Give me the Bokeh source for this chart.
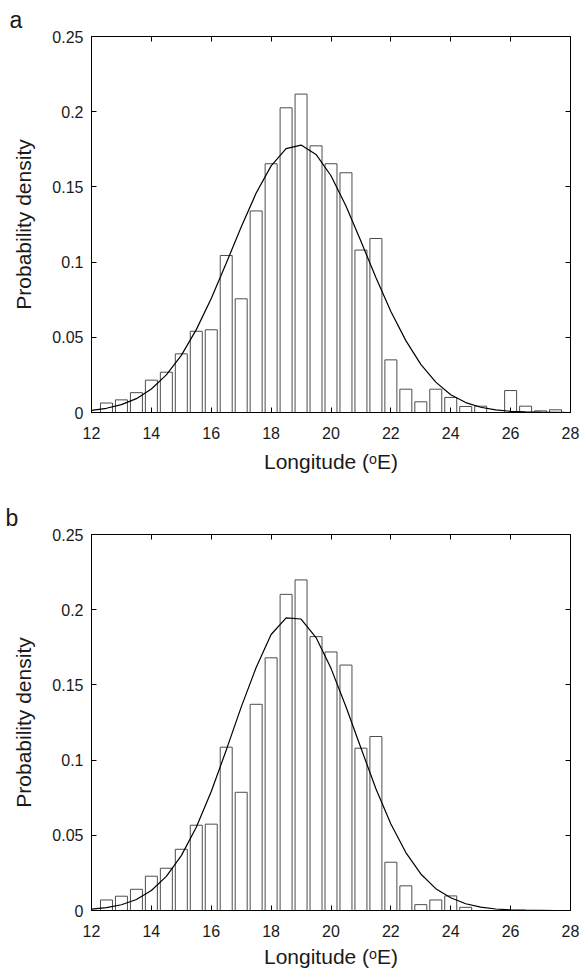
from bokeh.plotting import figure
from bokeh.models import Range1d, LinearAxis, FixedTicker, CustomJSTickFormatter
from bokeh.layouts import column
from bokeh.embed import file_html
from bokeh.resources import INLINE

# ---------------- data ----------------
bin_centers = [12.5, 13.0, 13.5, 14.0, 14.5, 15.0, 15.5, 16.0, 16.5, 17.0, 17.5,
               18.0, 18.5, 19.0, 19.5, 20.0, 20.5, 21.0, 21.5, 22.0, 22.5, 23.0,
               23.5, 24.0, 24.5, 25.0, 25.5, 26.0, 26.5, 27.0, 27.5]

density_a = [0.0063, 0.0084, 0.0132, 0.0215, 0.0268, 0.0390, 0.0540, 0.0550, 0.1044,
             0.0756, 0.1340, 0.1654, 0.2026, 0.2117, 0.1773, 0.1654, 0.1594, 0.1080,
             0.1157, 0.0350, 0.0155, 0.0071, 0.0155, 0.0100, 0.0040, 0.0042, 0.0,
             0.0146, 0.0042, 0.0011, 0.0018]

density_b = [0.0070, 0.0095, 0.0141, 0.0228, 0.0281, 0.0407, 0.0567, 0.0574, 0.1086,
             0.0786, 0.1371, 0.1680, 0.2102, 0.2198, 0.1821, 0.1719, 0.1632, 0.1079,
             0.1157, 0.0321, 0.0164, 0.0039, 0.0070, 0.0097, 0.0021, 0.0, 0.0,
             0.0, 0.0, 0.0, 0.0]

curve_x = [12.0, 12.5, 13.0, 13.5, 14.0, 14.5, 15.0, 15.5, 16.0, 16.5, 17.0, 17.5,
           18.0, 18.5, 19.0, 19.5, 20.0, 20.5, 21.0, 21.5, 22.0, 22.5, 23.0, 23.5,
           24.0, 24.5, 25.0, 25.5, 26.0, 26.5, 27.0, 27.5, 28.0]

curve_a = [0.0014, 0.0028, 0.0052, 0.0092, 0.0156, 0.0250, 0.0380, 0.0551, 0.0758,
           0.0992, 0.1234, 0.1459, 0.1640, 0.1755, 0.1778, 0.1716, 0.1574, 0.1373,
           0.1138, 0.0897, 0.0672, 0.0478, 0.0320, 0.0202, 0.0118, 0.0066, 0.0035,
           0.0017, 0.0008, 0.0004, 0.0002, 0.0001, 0.0]

curve_b = [0.0009, 0.0019, 0.0038, 0.0073, 0.0133, 0.0227, 0.0365, 0.0554, 0.0791,
           0.1066, 0.1352, 0.1616, 0.1835, 0.1945, 0.1938, 0.1815, 0.1610, 0.1355,
           0.1080, 0.0810, 0.0575, 0.0385, 0.0243, 0.0145, 0.0085, 0.0045, 0.0022,
           0.0010, 0.0004, 0.0002, 0.0001, 0.0, 0.0]

x_ticks = [12, 14, 16, 18, 20, 22, 24, 26, 28]
y_ticks = [0, 0.05, 0.1, 0.15, 0.2, 0.25]
y_tick_labels = ["0", "0.05", "0.1", "0.15", "0.2", "0.25"]
x_label = "Longitude (\u1d52E)"
y_label = "Probability density"

FONT = "Liberation Sans"
TXT = "#1a1a1a"


def make_panel(letter, dens, curve, left_border, right_border, bottom_border, label_standoff):
    p = figure(frame_width=479, frame_height=376,
               min_border_left=left_border, min_border_right=right_border,
               min_border_top=35, min_border_bottom=bottom_border,
               x_range=Range1d(12, 28), y_range=Range1d(0, 0.25),
               output_backend="svg", toolbar_location=None, tools="")
    p.grid.visible = False
    p.background_fill_color = "white"
    p.border_fill_color = "white"
    p.outline_line_color = "black"
    p.outline_line_width = 1
    p.outline_line_alpha = 1.0

    p.title.text = letter
    p.title.align = "left"
    p.title.offset = -(left_border - 5)
    p.title.text_font = FONT
    p.title.text_font_size = "23px"
    p.title.text_font_style = "normal"
    p.title.text_color = TXT
    p.title.standoff = 8

    xs = [c for c, d in zip(bin_centers, dens) if d > 0]
    ds = [d for d in dens if d > 0]
    p.vbar(x=xs, top=ds, bottom=0, width=0.4, fill_color="white",
           line_color="#4d4d4d", line_width=1)
    p.line(curve_x, curve, line_color="black", line_width=1.2)

    xa = p.xaxis[0]
    xa.ticker = FixedTicker(ticks=x_ticks)
    ya = p.yaxis[0]
    ya.ticker = FixedTicker(ticks=y_ticks)
    ya.major_label_overrides = dict(zip(y_ticks, y_tick_labels))
    for ax in (xa, ya):
        ax.major_tick_in = 5
        ax.major_tick_out = 0
        ax.minor_tick_line_color = None
        ax.axis_line_color = "black"
        ax.major_tick_line_color = "black"
        ax.major_label_text_font = FONT
        ax.major_label_text_font_size = "16px"
        ax.major_label_text_color = TXT
        ax.axis_label_text_font = FONT
        ax.axis_label_text_font_size = "21px"
        ax.axis_label_text_font_style = "normal"
        ax.axis_label_text_color = TXT
    xa.axis_label = x_label
    ya.axis_label = y_label
    xa.major_label_standoff = 14
    xa.axis_label_standoff = label_standoff
    ya.major_label_standoff = 8
    ya.axis_label_standoff = 14

    blank = CustomJSTickFormatter(code="return ''")
    top = LinearAxis(ticker=FixedTicker(ticks=x_ticks), formatter=blank,
                     major_tick_in=5, major_tick_out=0, major_label_standoff=0,
                     minor_tick_line_color=None, axis_line_color=None,
                     major_label_text_font_size="1px")
    right = LinearAxis(ticker=FixedTicker(ticks=y_ticks), formatter=blank,
                       major_tick_in=5, major_tick_out=0, major_label_standoff=0,
                       minor_tick_line_color=None, axis_line_color=None,
                       major_label_text_font_size="1px")
    p.add_layout(top, "above")
    p.add_layout(right, "right")
    return p


p1 = make_panel("a", density_a, curve_a, 87, 14, 86, 8)
p2 = make_panel("b", density_b, curve_b, 91, 10, 60, 5)

layout = column(p1, p2, spacing=0)
open("out.html", "w").write(file_html(layout, INLINE))
